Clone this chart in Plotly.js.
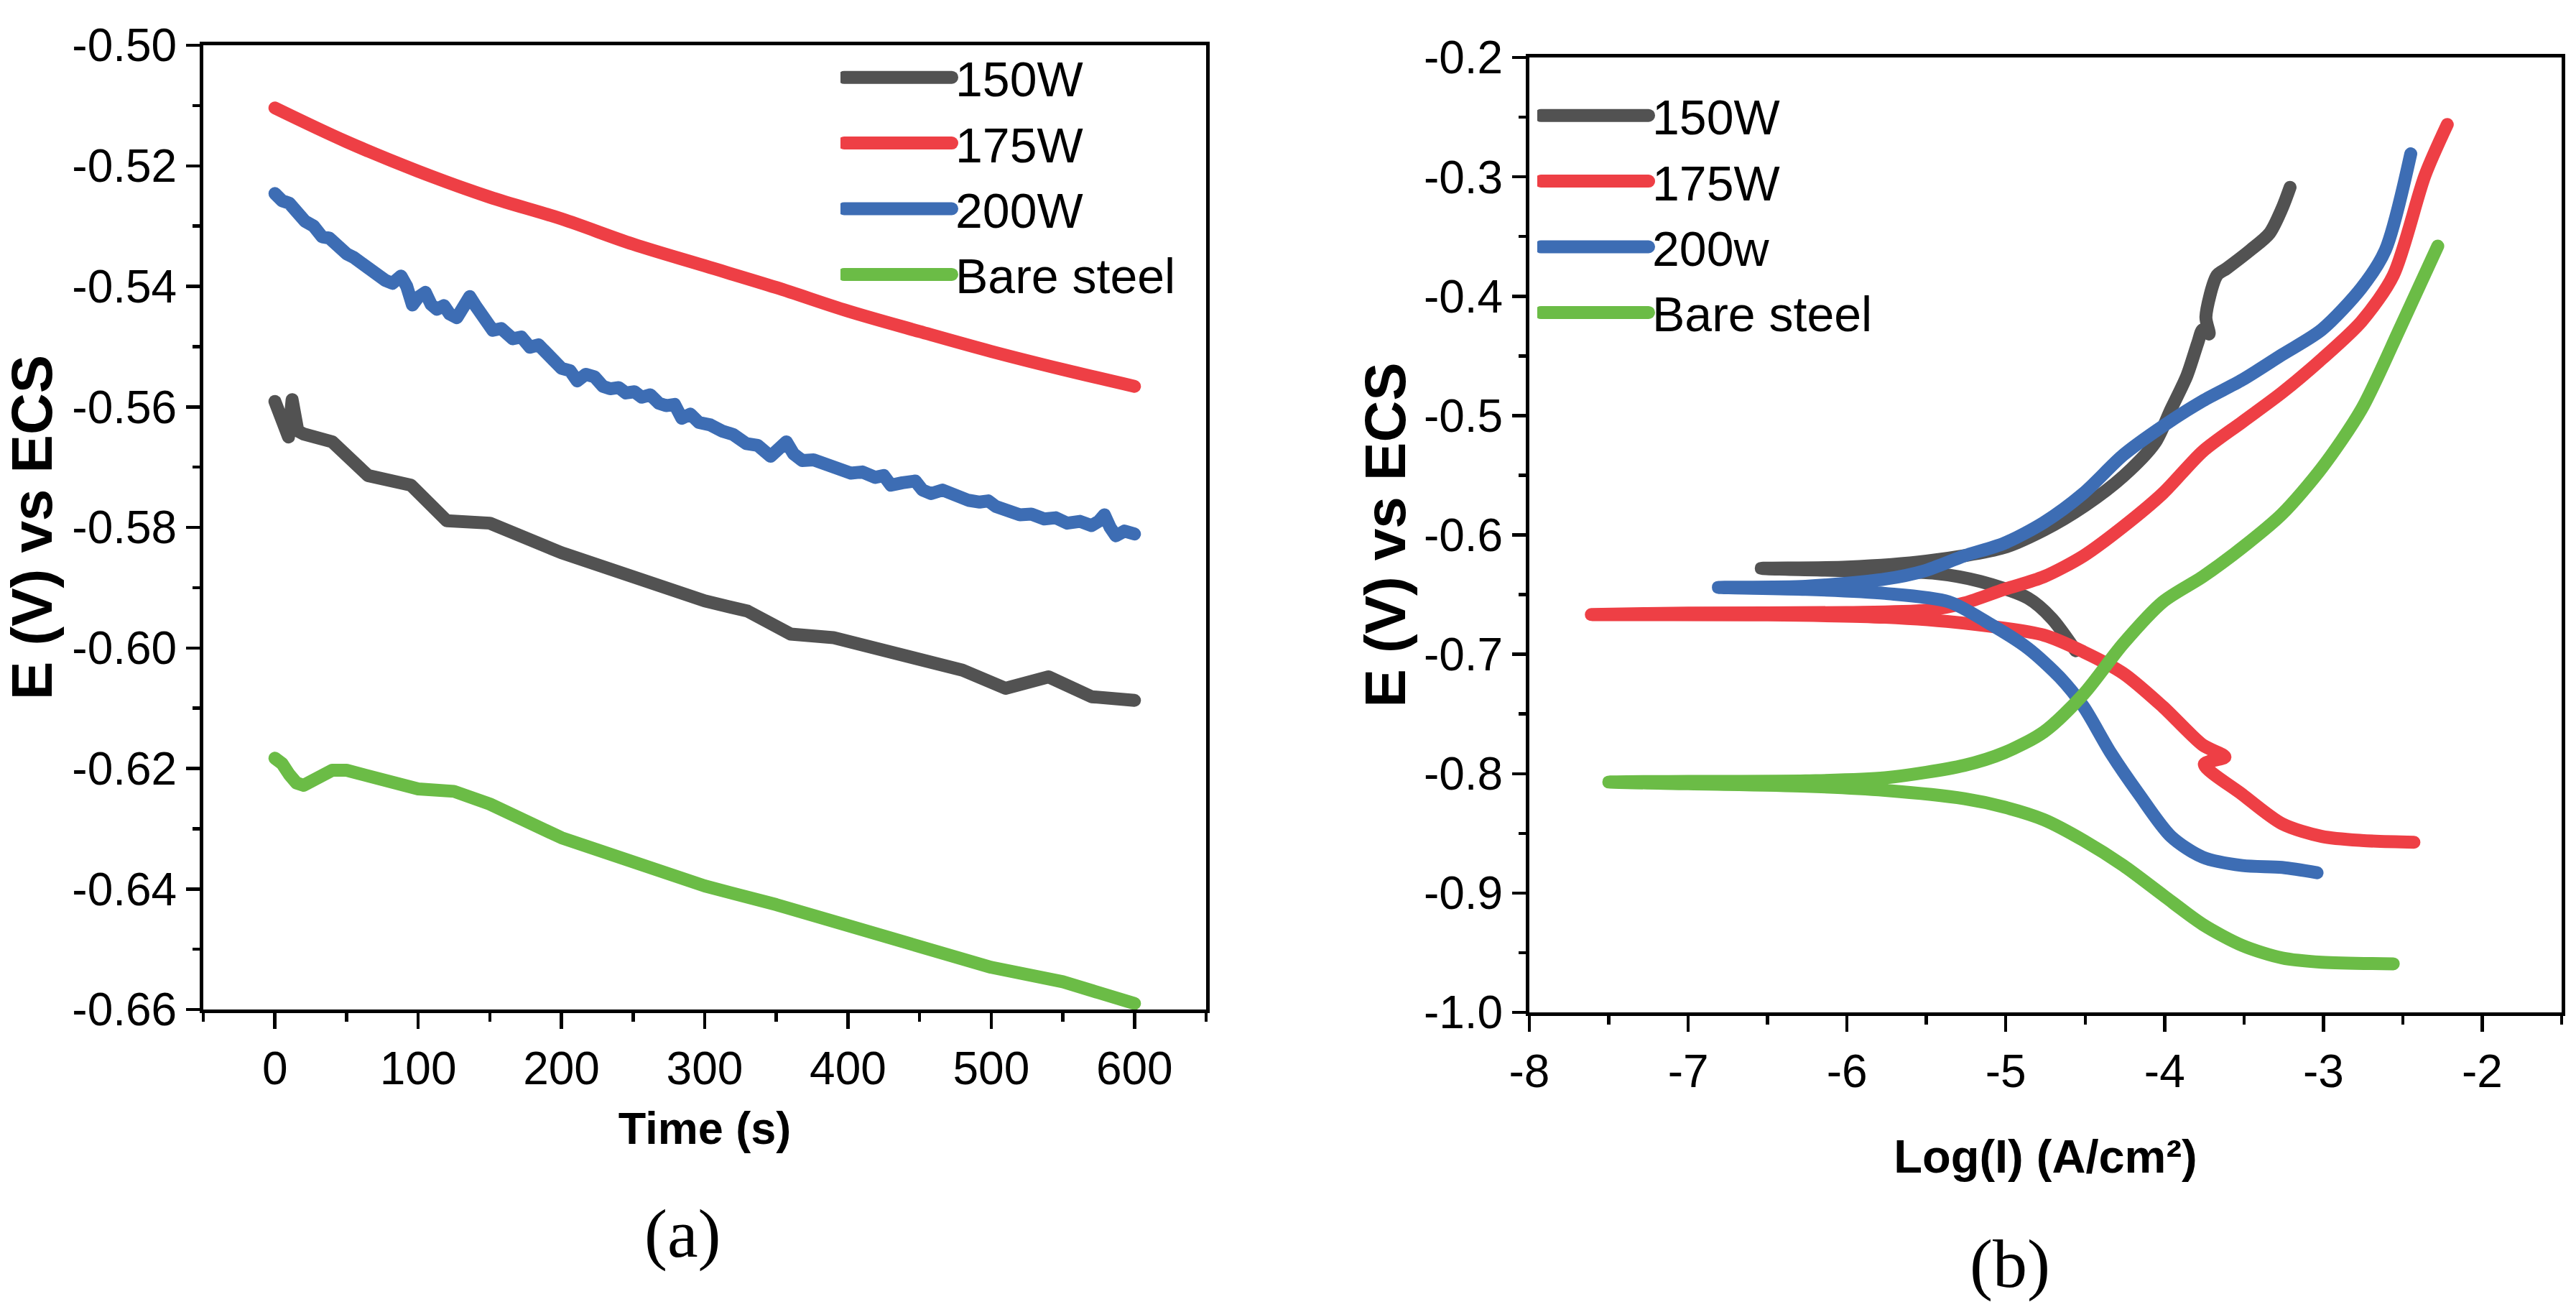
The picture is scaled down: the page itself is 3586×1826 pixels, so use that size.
<!DOCTYPE html>
<html>
<head>
<meta charset="utf-8">
<script src="https://cdn.plot.ly/plotly-3.0.1.min.js"></script>
<style>
html,body{margin:0;padding:0;background:#ffffff;}
#chart{width:3586px;height:1826px;}
.scatterlayer .js-line{stroke-linecap:round;stroke-linejoin:round;}
.legendlines path{stroke-width:18px !important;stroke-linecap:round;}
</style>
</head>
<body>
<div id="chart"></div>
<script>
// ---------- series names & colours ----------
const namesA = ['150W', '175W', '200W', 'Bare steel'];
const namesB = ['150W', '175W', '200w', 'Bare steel'];
const colors = ['#525252', '#EE3F45', '#3D6DB4', '#6BBC46'];

// ---------- (a) open-circuit potential vs time ----------
const t150 = [0, 9.5, 12, 16, 20, 40, 65, 95, 120, 150, 200, 240, 300, 330, 360, 390, 420, 450, 480, 510, 540, 570, 600];
const e150 = [-0.5591, -0.5650, -0.5588, -0.5640, -0.5645, -0.5658, -0.5714, -0.5730, -0.5789, -0.5793, -0.5842, -0.5874, -0.5922, -0.5939, -0.5977, -0.5983, -0.6002, -0.6016, -0.6037, -0.6067, -0.6048, -0.6081, -0.6087];

const t175 = [0, 50, 100, 150, 200, 250, 300, 350, 400, 450, 500, 550, 600];
const e175 = [-0.5104, -0.5160, -0.5209, -0.5252, -0.5288, -0.5330, -0.5366, -0.5402, -0.5441, -0.5475, -0.5508, -0.5538, -0.5566];

const t200 = [0, 5, 10, 15, 21, 27, 33, 38, 43, 50,
  55, 60, 66, 72, 77, 82, 88, 92, 96, 100,
  105, 109, 113, 118, 122, 127, 131, 136, 140, 144,
  148, 152, 158, 166, 172, 178, 184, 189, 195, 200,
  206, 211, 217, 223, 229, 234, 240, 245, 251, 256,
  262, 268, 273, 279, 284, 290, 296, 304, 312, 320,
  329, 337, 346, 352, 357, 362, 368, 376, 385, 393,
  402, 410, 419, 425, 430, 438, 447, 452, 458, 466,
  475, 484, 492, 498, 503, 511, 520, 528, 537, 545,
  553, 562, 570, 575, 579, 583, 587, 593, 600];
const e200 = [-0.5246, -0.5258, -0.5262, -0.5280, -0.5292, -0.5300, -0.5318, -0.5320, -0.5334, -0.5346,
  -0.5352, -0.5362, -0.5372, -0.5385, -0.5390, -0.5395, -0.5383, -0.5400, -0.5431, -0.5418,
  -0.5410, -0.5430, -0.5438, -0.5432, -0.5446, -0.5452, -0.5435, -0.5417, -0.5432, -0.5445,
  -0.5462, -0.5473, -0.5470, -0.5487, -0.5484, -0.5501, -0.5497, -0.5508, -0.5522, -0.5536,
  -0.5540, -0.5557, -0.5546, -0.5550, -0.5566, -0.5570, -0.5568, -0.5577, -0.5575, -0.5584,
  -0.5580, -0.5594, -0.5598, -0.5596, -0.5619, -0.5612, -0.5626, -0.5630, -0.5640, -0.5646,
  -0.5661, -0.5664, -0.5682, -0.5670, -0.5658, -0.5678, -0.5689, -0.5688, -0.5696, -0.5702,
  -0.5710, -0.5708, -0.5717, -0.5714, -0.5730, -0.5726, -0.5723, -0.5738, -0.5744, -0.5738,
  -0.5747, -0.5755, -0.5758, -0.5756, -0.5765, -0.5772, -0.5779, -0.5778, -0.5786, -0.5784,
  -0.5793, -0.5790, -0.5797, -0.5790, -0.5779, -0.5800, -0.5814, -0.5806, -0.5811];

const tBare = [0, 5, 10, 15, 20, 30, 40, 50, 75, 100, 125, 150, 200, 250, 300, 350, 400, 450, 500, 550, 600];
const eBare = [-0.6183, -0.6192, -0.6210, -0.6224, -0.6228, -0.6217, -0.6203, -0.6203, -0.6217, -0.6234, -0.6238, -0.6259, -0.6315, -0.6357, -0.6395, -0.6426, -0.6461, -0.6496, -0.6530, -0.6554, -0.6590];

// ---------- (b) Tafel polarisation: log(I) and E ----------
const logI150 = [-4.56, -4.71, -4.86, -5.16, -5.46, -6.00, -6.54, -6.00, -5.50, -5.01, -4.76, -4.50, -4.26, -4.06, -3.96, -3.86, -3.79, -3.76, -3.72, -3.74, -3.67, -3.61, -3.46, -3.34, -3.26, -3.21];
const pol150  = [-0.697, -0.670, -0.653, -0.639, -0.632, -0.630, -0.628, -0.627, -0.622, -0.6105, -0.596, -0.5754, -0.5509, -0.5228, -0.4947, -0.4667, -0.4386, -0.428, -0.4316, -0.4175, -0.3825, -0.3768, -0.3614, -0.3474, -0.3263, -0.3088];

const logI175 = [-2.43, -2.76, -3.01, -3.26, -3.51, -3.75, -3.62, -3.76, -4.01, -4.26, -4.51, -4.76, -5.26, -5.76, -6.50, -7.61, -7.00, -6.00, -5.50, -5.26, -5.01, -4.76, -4.51, -4.26, -4.01, -3.76, -3.51, -3.26, -3.01, -2.76, -2.56, -2.36, -2.22];
const pol175  = [-0.8575, -0.856, -0.8526, -0.842, -0.8175, -0.792, -0.786, -0.776, -0.744, -0.716, -0.698, -0.684, -0.674, -0.669, -0.667, -0.6667, -0.6655, -0.665, -0.663, -0.657, -0.6456, -0.635, -0.6175, -0.593, -0.565, -0.530, -0.5053, -0.4807, -0.4526, -0.4211, -0.3825, -0.2986, -0.2561];

const logI200 = [-3.04, -3.26, -3.51, -3.76, -3.96, -4.16, -4.34, -4.51, -4.66, -4.86, -5.11, -5.36, -5.76, -6.26, -6.81, -6.26, -5.76, -5.51, -5.26, -5.01, -4.76, -4.51, -4.26, -4.01, -3.76, -3.51, -3.26, -3.01, -2.76, -2.61, -2.45];
const pol200  = [-0.883, -0.8786, -0.877, -0.870, -0.8526, -0.8175, -0.7825, -0.744, -0.7193, -0.695, -0.6737, -0.656, -0.649, -0.6456, -0.644, -0.643, -0.637, -0.630, -0.6175, -0.607, -0.5895, -0.565, -0.533, -0.5088, -0.4877, -0.470, -0.449, -0.428, -0.393, -0.3614, -0.2807];

const logIBare = [-2.56, -3.01, -3.26, -3.51, -3.76, -4.01, -4.26, -4.51, -4.76, -5.01, -5.26, -5.76, -6.26, -7.00, -7.50, -7.00, -6.26, -5.76, -5.26, -5.01, -4.76, -4.51, -4.26, -4.01, -3.76, -3.51, -3.26, -3.01, -2.76, -2.51, -2.28];
const polBare  = [-0.9593, -0.958, -0.9544, -0.944, -0.9263, -0.9018, -0.877, -0.856, -0.8386, -0.828, -0.821, -0.814, -0.8105, -0.8085, -0.807, -0.8065, -0.806, -0.8035, -0.793, -0.7825, -0.765, -0.7333, -0.691, -0.656, -0.635, -0.6105, -0.5825, -0.5439, -0.4947, -0.4246, -0.358];

// ---------- tick labels ----------
const timeTicks = [0, 100, 200, 300, 400, 500, 600];
const timeLabels = ['0', '100', '200', '300', '400', '500', '600'];
const ocpTicks = [-0.50, -0.52, -0.54, -0.56, -0.58, -0.60, -0.62, -0.64, -0.66];
const ocpLabels = ['-0.50', '-0.52', '-0.54', '-0.56', '-0.58', '-0.60', '-0.62', '-0.64', '-0.66'];
const logTicks = [-8, -7, -6, -5, -4, -3, -2];
const logLabels = ['-8', '-7', '-6', '-5', '-4', '-3', '-2'];
const polTicks = [-1.0, -0.9, -0.8, -0.7, -0.6, -0.5, -0.4, -0.3, -0.2];
const polLabels = ['-1.0', '-0.9', '-0.8', '-0.7', '-0.6', '-0.5', '-0.4', '-0.3', '-0.2'];

// ---------- build traces ----------
const seriesA = [[t150, e150], [t175, e175], [t200, e200], [tBare, eBare]];
const seriesB = [[logI150, pol150], [logI175, pol175], [logI200, pol200], [logIBare, polBare]];

const sans = 'Liberation Sans, Arial, sans-serif';
const serif = 'Liberation Serif, Times New Roman, serif';
const LW = 18;

const traces = [];
seriesA.forEach(function (s, i) {
  traces.push({
    x: s[0], y: s[1], name: namesA[i], type: 'scatter', mode: 'lines',
    line: {color: colors[i], width: LW, shape: i === 1 ? 'spline' : 'linear'},
    xaxis: 'x', yaxis: 'y', legend: 'legend'
  });
});
seriesB.forEach(function (s, i) {
  traces.push({
    x: s[0], y: s[1], name: namesB[i], type: 'scatter', mode: 'lines',
    line: {color: colors[i], width: LW, shape: 'spline', smoothing: 0.8},
    xaxis: 'x2', yaxis: 'y2', legend: 'legend2'
  });
});

function axisBase(extra) {
  const base = {
    showline: true, linecolor: '#000', linewidth: 5, mirror: true,
    showgrid: false, zeroline: false,
    ticks: 'outside', ticklen: 22, tickwidth: 4.5, tickcolor: '#000',
    tickmode: 'array',
    tickfont: {family: sans, size: 64, color: '#000'}
  };
  return Object.assign(base, extra);
}

const W = 3586, H = 1826;
const layout = {
  width: W, height: H,
  margin: {l: 0, r: 0, t: 0, b: 0, pad: 0},
  paper_bgcolor: '#fff', plot_bgcolor: '#fff',
  showlegend: true,
  xaxis: axisBase({
    domain: [283 / W, 1679 / W], range: [-50, 650], anchor: 'y',
    tickvals: timeTicks, ticktext: timeLabels,
    minor: {ticks: 'outside', tick0: 0, dtick: 50, ticklen: 12, tickwidth: 4.5, tickcolor: '#000', showgrid: false},
    title: {text: '<b>Time (s)</b>', font: {family: sans, size: 63, color: '#000'}, standoff: 28}
  }),
  yaxis: axisBase({
    domain: [1 - 1405 / H, 1 - 63 / H], range: [-0.66, -0.50], anchor: 'x',
    tickvals: ocpTicks, ticktext: ocpLabels, ticklen: 19,
    minor: {ticks: 'outside', tick0: 0, dtick: 0.01, ticklen: 10, tickwidth: 4.5, tickcolor: '#000', showgrid: false},
    title: {text: '<b>E (V) vs ECS</b>', font: {family: sans, size: 80, color: '#000'}, standoff: 42}
  }),
  xaxis2: axisBase({
    domain: [2129 / W, 3566 / W], range: [-8, -1.5], anchor: 'y2',
    tickvals: logTicks, ticktext: logLabels,
    minor: {ticks: 'outside', tick0: 0, dtick: 0.5, ticklen: 12, tickwidth: 4.5, tickcolor: '#000', showgrid: false},
    title: {text: '<b>Log(I) (A/cm²)</b>', font: {family: sans, size: 65, color: '#000'}, standoff: 62}
  }),
  yaxis2: axisBase({
    domain: [1 - 1409 / H, 1 - 80 / H], range: [-1.0, -0.2], anchor: 'x2',
    tickvals: polTicks, ticktext: polLabels, ticklen: 19,
    minor: {ticks: 'outside', tick0: 0, dtick: 0.05, ticklen: 10, tickwidth: 4.5, tickcolor: '#000', showgrid: false},
    title: {text: '<b>E (V) vs ECS</b>', font: {family: sans, size: 80, color: '#000'}, standoff: 0}
  }),
  legend: {
    x: 1170 / W, xanchor: 'left', y: 1 - 57 / H, yanchor: 'top',
    bgcolor: 'rgba(0,0,0,0)', borderwidth: 0, itemwidth: 150, tracegroupgap: 0,
    font: {family: sans, size: 68, color: '#000'}
  },
  legend2: {
    x: 2140 / W, xanchor: 'left', y: 1 - 110 / H, yanchor: 'top',
    bgcolor: 'rgba(0,0,0,0)', borderwidth: 0, itemwidth: 150, tracegroupgap: 0,
    font: {family: sans, size: 68, color: '#000'}
  },
  annotations: [
    {text: '(a)', xref: 'paper', yref: 'paper', x: 950 / W, y: 1 - 1716 / H, xanchor: 'center', yanchor: 'middle',
     showarrow: false, font: {family: serif, size: 96, color: '#000'}},
    {text: '(b)', xref: 'paper', yref: 'paper', x: 2798 / W, y: 1 - 1758 / H, xanchor: 'center', yanchor: 'middle',
     showarrow: false, font: {family: serif, size: 96, color: '#000'}}
  ]
};

Plotly.newPlot('chart', traces, layout, {displayModeBar: false, staticPlot: true});
</script>
</body>
</html>
